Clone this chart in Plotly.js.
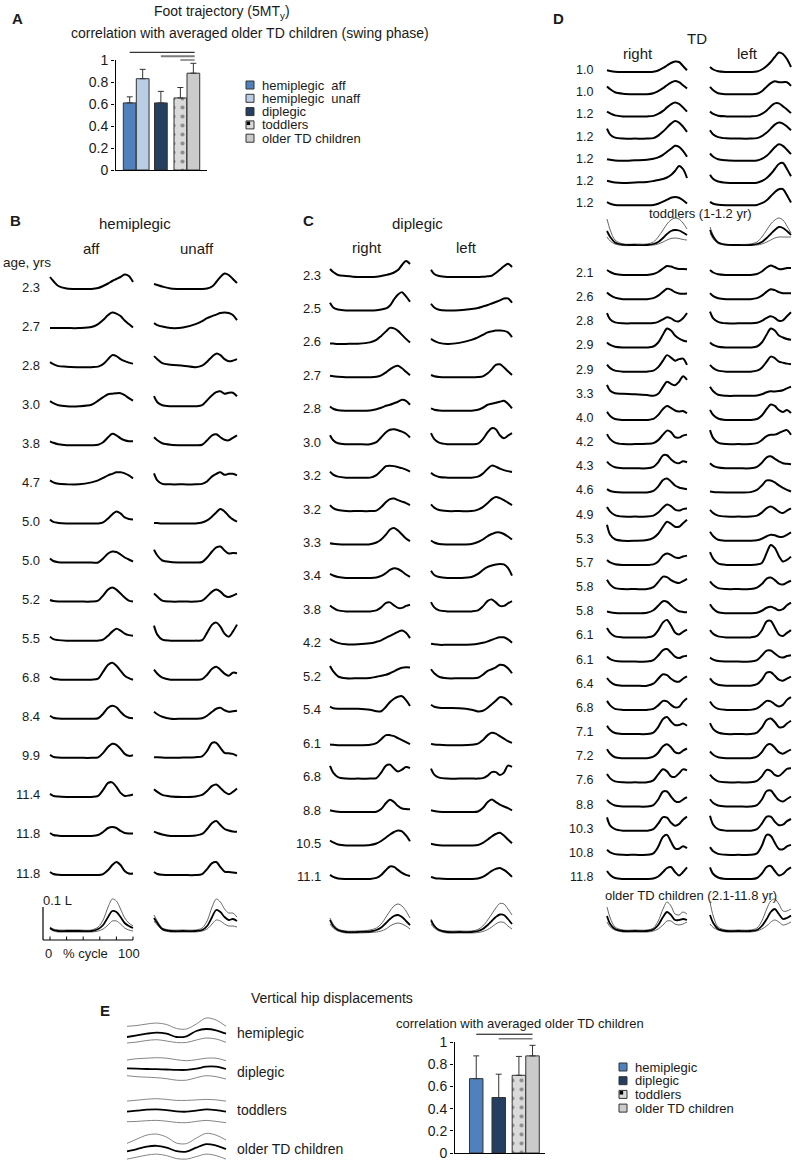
<!DOCTYPE html>
<html>
<head>
<meta charset="utf-8">
<script src="https://cdn.plot.ly/plotly-3.0.1.min.js"></script>
<style>html,body{margin:0;padding:0;background:#fff}</style>
</head>
<body>
<div id="fig" style="width:795px;height:1164px"></div>
<script>
// ---- data ----
// % of gait cycle where each foot trace is sampled
var cyc = [0,4,10,20,35,50,58,64,70,75,80,85,90,95,100];

// panel A: correlation of foot trajectory with older TD average
var groupsA = ['hemiplegic\u00a0 aff','hemiplegic\u00a0 unaff','diplegic','toddlers','older TD children'];
var corrA = [0.61, 0.83, 0.61, 0.655, 0.88];
var errA = [0.055, 0.085, 0.105, 0.095, 0.09];

// panel E: correlation of hip displacement
var groupsE = ['hemiplegic','diplegic','toddlers','older TD children'];
var corrE = [0.67, 0.50, 0.70, 0.875];
var errE = [0.205, 0.21, 0.17, 0.095];

// heights above baseline (px) of the 5MT vertical trajectory
var hemiAges = ['2.3','2.7','2.8','3.0','3.8','4.7','5.0','5.0','5.2','5.5','6.8','8.4','9.9','11.4','11.8','11.8'];
var hemiAff = [
 [12,8,3,0.5,0,0,1,3,5.5,8,10,12,14.5,13,7],
 [0,0,0,0,0,1,4,8,13,15.5,14.5,12,7.5,4,0.5],
 [5,3,1,0.5,0,0,0.5,3,8,12,11,8,6,4.5,3.5],
 [5,3,1,0,0,1.5,5.5,9,12,12.5,13,13,11,8,5.5],
 [4,2.5,1,0,0,0,0.5,3,8,11.5,10,7,5,4,4],
 [4,2,0.5,0,0,2,4,6.5,9,10.5,12,12,11,9,6],
 [4,1.5,0.5,0,0,0,0,1,5,9,12,10,6,4.5,4],
 [4,1.5,0.3,0,0,0,0,4,9,11,10.5,8,5,3,1],
 [1.5,0.5,0,0,0,0,1,6,12,14,12,8,4,1,0],
 [4,1.5,0.5,0,0,0,0,1,5,9,12,10,7,5.5,5],
 [3,1,0.3,0,0,0,1,8,15,17,14,9,4,1.5,0],
 [3,1,0.3,0,0,0,0.5,5,11,13,11.5,7,3,1,0.5],
 [3,1,0.3,0,0,0,0.5,5,11,14,13,9,4,2,2.5],
 [3,1,0.3,0,0,0,1,7,14,14.5,10,4,1,1.5,2.5],
 [3,1,0.3,0,0,0,1,4,8,9,8,5,3,2.5,2.5],
 [3,1,0.3,0,0,0,0,1,5,10,13,10,4,1.5,1.5]
];
var hemiUnaff = [
 [5,4,2.5,0.5,0,0,0,0.5,2.5,7,12,15.5,14,10,6],
 [5,3,1.5,0,0.5,4,7,10,12,13.5,15,15.5,15,13,8],
 [11,8,4,2.5,1.5,0,1.5,5.5,10.5,13.5,12,8,6,6.5,8],
 [10,4,1,0,0,0,1,6,11,14,15,12.5,13.5,13.5,10],
 [8,5,2,0.5,0,0,0.5,5,10,11,8,5.5,5,7.5,10],
 [11,4,0.5,0,0,0,0.5,3,8,10.5,12,9.5,10.5,10.5,9],
 [0.5,0.3,0,0,0,0,1,3,7,11,14.5,12,7.5,4,1.7],
 [12.7,7,2,0.5,0,0,0.5,5,11,15,16,12,9,9.5,9.3],
 [8,5,1,0,0,0,1,5,10,12,10,6,4.5,6,8],
 [15,6,1,0,0,0,0.5,8,16,18,14,7,4,9,16],
 [10,6,2,0,0,0,0.5,5,11,13,10,6,4,7,6.5],
 [7,4.5,2,0,0,0,0.5,3,7,10,11,8.5,7,7.5,8],
 [0.7,0.5,0.3,0,0.3,0.7,1.5,7,15,15,10,5,4.5,4,2],
 [7.7,5,2,0.5,0,0.5,2,6,11,12.5,9,5,2.7,5,8.5],
 [4.3,3,1.5,0,0,0.5,2,7,13,15,11,7,5.5,4.5,4.3],
 [3,1,0.3,0,0,0,1,6,12,13,8,3.5,3,2.5,2]
];
var hemiAffMean = [3,1,0,0,0,0,2,6,14,20,19,14,8,5,3];
var hemiAffUp   = [4,2,1,1,1,1,4,11,24,32,30,22,13,8,5];
var hemiAffLo   = [2,0,-1,-1,-1,-1,0,2,6,10,10,7,3,1,0];
var hemiUnaffMean = [13,8,2,0,0,0,1,5,14,21,19,14,11,12,10];
var hemiUnaffUp   = [16,10,3,1,1,1,3,10,24,32,29,22,18,18,14];
var hemiUnaffLo   = [10,6,1,-1,-1,-1,0,2,7,11,10,7,5,5,4];

var diplAges = ['2.3','2.5','2.6','2.7','2.8','3.0','3.2','3.2','3.3','3.4','3.8','4.2','5.2','5.4','6.1','6.8','8.8','10.5','11.1'];
var diplRight = [
 [8,5,2,1,0,0,0.3,1,2,3,4.5,7,12,16,13],
 [7.7,3,1,0,0,0,0.3,1,2,5,11,16,18.3,14,8.7],
 [0.5,0.3,0,0,0.2,1.5,4,8,12.5,16,15.5,13,9,5,1.3],
 [1.5,1,0.5,0,0,0,0.5,2,5,8,10.5,11.5,9,5.5,2],
 [4.3,2,0.5,0,0,0.3,1.5,3,5,6,7.5,9,11,10,6],
 [9,4,1,0,0,0,2,7,12,14.5,15,14,12.5,10.5,6.7],
 [6,3,1,0,0,0,2.5,7,11.5,12,11.5,10.5,9.5,8,6],
 [6,3,1,0,0,0,0.5,4,9,12,12.5,11,9.5,8,6],
 [1.3,0.7,0.3,0,0,0.3,2,5,10,15,16.5,14,10,6,3.3],
 [4,2.5,1,0,0,0,0.5,2,5,8,9.7,9,6.5,3.5,1],
 [6,3.5,1,0,0,0,1,4,8.5,9,6,3.5,3.5,5.5,6.7],
 [6,4,2,0.5,0.5,1.5,3,4.5,7,9,11,13,14.3,12,6.7],
 [12.3,7,2,0,0,0.3,1.5,2.5,3.5,5,7,9,10.5,11,10.7],
 [5,3.5,3,3,3,2,0.5,0.5,5,9.7,13,15,15.5,11.5,5.7],
 [0.7,0.3,0,0,0,0.3,2,6,10,10,9,7,5,3,1],
 [12.7,6,1.5,0,0,0,0.5,6,13,14,10,7,9,11.5,10.5],
 [1.7,1,0.3,0,0,0,0.3,3,9,12.3,10,6,3.5,3,2.7],
 [5,3,1,0,0,0.5,2,4.5,8,11,13.5,15,14,10,4.3],
 [4,2,0.5,0,0,0,1,4,9,12.5,12,9,6,4,3]
];
var diplLeft = [
 [7.3,3,1,0,0,0,0,0.3,0.7,1.3,4,7.3,10.7,13.3,10],
 [6.7,3,0.7,0,0.3,1.5,2.5,4,5.5,7,8.5,10,12,12,7.7],
 [5,3,1,0,1,4,6.5,9,11.5,12.5,13.3,13.3,13,11.5,6.7],
 [2.3,1,0.3,0,0,0,0.3,1,4,8,12.5,13,10,6,2.3],
 [2.3,1,0.3,0,0,0,1,3,6,7,8,9,10,7,2.3],
 [11,5,1.5,0,0,0,0.5,5,12,16,15,9,6,8.5,11],
 [5,2.5,0.7,0,0,0,1,4,9,12,11,9,7.5,6.5,5.7],
 [6.7,3.5,1,0,0,0,1.5,4,8,12,14,13,11,8.5,6],
 [4,2,0.5,0,0,0.5,2.5,5,8.5,10.5,12,12,10.5,8,5],
 [7.3,3,1,0,0,1,4,8,11,12.5,13.5,14,13.5,10,2.3],
 [9.3,4,1,0,0,0,1,5,10.5,12,9,5.5,5.5,8,10.3],
 [1,0.5,0,0,0,0.3,1,2,3.5,5,6.5,7.5,7.5,5.5,2],
 [9,5,1.5,0,0,0,0.5,3.5,7.5,9,11,13.5,13,10,5],
 [7,5,4,3.7,3.5,2,0.3,1,4,7.5,11,14.5,14,11,6.7],
 [1.3,0.7,0.3,0,0,0.3,1.5,5,10,12.3,11.5,9,6.5,4,2.3],
 [10,4,1,0,0,0,0,0.5,3,6.5,6.5,3.5,6,13,11.7],
 [1.7,1,0.3,0,0,0,0.5,4,10,12.5,10,7.5,5.5,4,1.7],
 [1.7,1,0.3,0,0,0,0.5,2.5,6,9,11.5,12.7,10,6,2.3],
 [2,1,0.3,0,0,0,0.5,2,5,8,10,11,9,6,2]
];
var diplRightMean = [12,6,2,0,0,0.5,2,4.5,9,13,16,17,15,11,7];
var diplRightUp   = [14,8,3,1,1,2,4,8,15,21,26,28,26,21,14];
var diplRightLo   = [8,4,1,-1,-1,-0.5,0,1,3,6,8,9,8,6,3];
var diplLeftMean = [11.7,6,2,0,0,0,1,3,7,11,15,17.5,17,13,8];
var diplLeftUp   = [13,7,2.5,1,1,1,2.5,6,12,18,24,28.5,28,23,17];
var diplLeftLo   = [8,4,1,-1,-1,-1,-0.5,0.5,2.5,5,8,10,9.5,6,3];

var todAges = ['1.0','1.0','1.2','1.2','1.2','1.2','1.2'];
var todRight = [
 [1.7,1,0.3,0,0,0,0.3,1.5,4,6.5,9,10.5,10,6,1.7],
 [7.7,5,2,0.5,0,0,1,3,6,9,11.5,13.3,12,9,5.7],
 [4.7,3,1,0,0,0,0.5,2.5,5.5,9,12,14,12.5,9,4.7],
 [10,4,1,0,0,0,0.5,3,7,11,15,17.5,16,12,6.7],
 [1.5,1,0.3,0,0.5,1,2,3.5,6,9,12,15,14,10,4],
 [2.3,1.5,0.5,0,0.5,1,2,3,4,5.5,8,12,17,14,5],
 [3,1.5,0.3,0,0,0,0.3,1.5,3.5,5.5,7.5,8.3,7.5,5,1.7]
];
var todLeft = [
 [5,2.5,0.7,0,0,0,0.5,2.5,6,10,15,19.5,18,13,5],
 [7.3,4,1,0,0,0,0.5,3,7.5,11,13,12,12,12,8.3],
 [5,2.5,0.7,0,0,0,0.5,2.5,6,10,13,13,10,7,3.3],
 [8.3,4,1.5,0.3,0,0,0.5,2.5,6,10,14,16,15,12,8.3],
 [7.3,4,1.5,0.5,0,0,0.3,2,5,9,13.5,16.5,15,11,6.7],
 [8.3,4,1.5,0.3,0,0,0.3,2,5,9,14,19,20,14,6.7],
 [3.3,1.5,0.5,0,0,0,0.3,2,5,9,13,16,16,10,2.7]
];
var todRightMean = [14,8,2.5,0.3,0,0,1,3,7,11,14,15,14.5,12.5,10];
var todRightUp   = [26,15,5,1,1,1,3,8,15,21,25,27,26,22,16];
var todRightLo   = [8,4,1,-0.5,-0.5,-0.5,0,1,3,5,6.5,7,6.5,5.5,5];
var todLeftMean = [15,8,2.5,0.3,0,0,1,3,7,11,15,18,17,14,10];
var todLeftUp   = [18,10,3,0.5,0.5,1,3,8,15,21,25,27,25,19,12];
var todLeftLo   = [12,6,1.5,-0.3,-0.5,-0.5,0,1,3,5,7,8,8,8,8];

var oldAges = ['2.1','2.6','2.8','2.9','2.9','3.3','4.0','4.2','4.3','4.6','4.9','5.3','5.7','5.8','5.8','6.1','6.1','6.4','6.8','7.1','7.2','7.6','8.8','10.3','10.8','11.8'];
var oldRight = [
 [5,3,1,0,0,0,1,3,6.5,9,8.5,7,6,6,5.7],
 [6.7,4,1.5,0,0,0,1,3.5,7.5,10.5,9.5,7,5.7,5.5,5.7],
 [10.3,4,1,0,0,0,0.3,1.5,4,6,5,2.5,2,5,10.3],
 [5,2.5,0.7,0,0,0,1,5,13,19,17,12,9,7,6],
 [7,3.5,1,0,0,0,1,4.5,11,16.5,14,11,12.5,13,6.7],
 [11,5,2.5,2,1.5,0.7,0,2,9,14,12,10.5,14,19.5,16],
 [8.3,4,1,0,0,0,1,5,11,14,12,9.5,8.5,9,6.7],
 [10,5,1.5,0,0,0.3,1,4,9.5,13.5,12,7,6.5,8.5,9.5],
 [6.7,3.5,1,0,0,0,1.5,6,13,13,9,6,5,7,6],
 [3.3,1.5,0.5,0,0,0,1.5,6,12.5,14,11,7,5,4,3.3],
 [9.7,5,1.5,0,0,0,1,4,9,12,10.5,7,6,7.5,8],
 [16,6,1.5,0,0,0.7,3,7,14,19,17,14,14,17.5,21],
 [5,2.5,0.7,0,0,0,0.5,3.5,9.5,11.5,10,7.5,7,8.5,9.3],
 [9.3,4.5,1,0,0,0,2,7,12.5,12,9,7,6,8,10.3],
 [1.7,1,0.3,0,0,0.5,3,7.5,12,11.5,8,4.5,2,1.3,1],
 [9.3,4.5,1,0,0,0,1.5,7,15,17.5,12,5,3,5.5,7.7],
 [5,2.5,0.7,0,0,0,1.5,6,11.5,12.5,9,5,3.5,5,5.7],
 [7.7,4,1,0,0,0,2,7,11.5,10.5,7,4.5,4,7,9.3],
 [9,4.5,1,0,0,0,1,4.5,9,8.5,5,2.5,3,8,11.7],
 [8.3,4,1,0,0,0,1.5,7,15,17,12.5,9,9,10.5,8.3],
 [9,4.5,1,0,0,0,1.5,5.5,12,14,11,6,5,7.5,9.7],
 [8.3,4,1,0,0,0,2,8,13,11,6,5.5,9,13,12],
 [6.7,3.5,1,0,0,0,1.5,7,15,15,10,5.5,4.5,7,9.3],
 [13.3,5,1.5,0,0,0,1.5,7,13.5,13,8,5,6.5,11,14],
 [5,2.5,0.7,0,0,0,1.5,8,18,20,13,6.5,6,8.5,6.7],
 [8,4,1,0,0,0,0.5,2.5,7,11,12,7,3.5,7,11.7]
];
var oldLeft = [
 [5,2.5,0.7,0,0,0,1,3.5,7.5,9.5,8,6,6,7,7],
 [6,3,1,0,0,0,1,3.5,7.5,10,9,7,6,6,6],
 [11.7,5,1.5,0,0,0,0.5,2.5,5.5,7,5.5,2.5,3,7,11],
 [5,2.5,0.7,0,0,0,1,5,13,19,17,12,10,8.5,7.7],
 [6.7,3.5,1,0,0,0,1,4,10,15,13.5,10,9,8,7.3],
 [9,4.5,1,0,0,0,0.3,1.5,3.5,4.5,4.3,4.7,5.5,7.5,9],
 [10,5,1.5,0,0,0,1,4.5,11,15.5,14,10,8,10,7],
 [14,6,1.5,0,0,0,1,4,8,9.3,9.5,11,13,14,9.3],
 [5,2.5,0.7,0,0,0,1.5,5.5,11,12,9.5,7,5,4.5,4],
 [1,0.5,0.2,0,0,0.3,2.5,7,12,12,10,7,4.5,2.5,1],
 [6.7,3.5,1,0,0,0,1,4,8.5,10,8,5,3.5,6,8.3],
 [9,4.5,1,0,0,0,0.5,2,4.5,6,5.5,4,4,6,8.3],
 [12.7,6,1.5,0,0,0,0.5,2,12,20,17,9,3.5,5,8.3],
 [7.7,4,1,0,0,0,1.5,5,10.5,11.5,9,5.5,4.5,6.5,8.3],
 [9,4.5,1,0,0,0,0.5,2.5,5.5,6.5,5,3,4,8,10.7],
 [7.3,3.5,1,0,0,0,1.5,7,16,16.5,10,3,1.5,4.5,7.3],
 [4,2,0.5,0,0,0,1.5,6,11,11,8,5,4,5.5,6.3],
 [7.3,3.5,1,0,0,0,1.5,6,13,13.5,10,6,5,7,9],
 [8.3,4,1,0,0,0,1.5,5,9,8.5,5.5,3.5,5,10,12.7],
 [11,5,1.5,0,0,0,1.5,6.5,14,15.5,12,7,7,10.5,13.3],
 [6.7,3.5,1,0,0,0,1.5,6,13,14,10.5,6,4.5,6.5,8.7],
 [7.7,4,1,0,0,0,1.5,6,12.5,11.5,7.5,6.5,9.5,13.5,14],
 [7.3,3.5,1,0,0,0,1.5,7,15.5,16,11,6.5,5,7.5,10],
 [15,6,1.5,0,0,0,1.5,7,14,14,9,5.5,6,9.5,11.7],
 [7.7,3.5,1,0,0,0,1.5,9,20,19,12,6,5.5,8.5,10],
 [11.7,5,1.5,0,0,0,1,5.5,12,13,8,3.5,5,9,11.7]
];
var oldRightMean = [15,7,2,0,0,0,1.5,6,14,19,16,11,11,12,11];
var oldRightUp   = [24,13,4,1,1,1,3,10,22,29,25,17,16,19,17];
var oldRightLo   = [9,4,1,-1,-1,-1,0,2,6,10,10,7,6,7,9];
var oldLeftMean = [16,8,2,0,0,0,1,5,12,19,22,17,12,13,15.5];
var oldLeftUp   = [29,15,4,1,1,1,3,10,22,30,32,27,20,20,22];
var oldLeftLo   = [7,3.5,1,-1,-1,-1,0,2,5,9,11,9,6,7,9];

// panel E: vertical hip displacement (px, up positive), mean and +-SD
var hipCyc = [0,10,20,30,40,50,60,70,80,90,100];
var hipMean = [
 [-4,-2.3,-0.7,0.3,-0.7,-4,-3.3,2,4,2.7,-0.7],
 [3.3,3,2.7,2.5,2.2,1.8,1.8,3,5,5,2.7],
 [-1.3,-0.3,0.7,1,0.3,-1,-1.3,-0.3,1,0.3,-1.3],
 [-2.3,0,2.5,3.3,1.5,-2,-2.5,1.5,5,3.5,0]
];
var hipUp = [
 [6.7,7.5,9,10,8.5,4.5,4,9,15,13,6.7],
 [11.7,13,13.5,14,13.5,12,11,12,13.5,13.5,11],
 [9.3,10.2,11.2,11.7,11,10,10,10.5,11,10.5,9.3],
 [5.7,10,14,15,12,6,5.5,11,15.7,14,9]
];
var hipLo = [
 [-10,-9,-7.5,-6.7,-8,-9.5,-9.5,-7,-5,-6,-9.3],
 [-4,-5,-5.5,-6,-7,-8.5,-8.5,-6,-4,-5,-7.3],
 [-11.3,-11,-10.3,-10,-10.8,-12,-12.3,-11,-10,-11,-12.3],
 [-10,-8,-6,-5,-6.5,-9.5,-10,-7.5,-5,-6.5,-10]
];

// ---- drawing ----
var W = 795, H = 1164;
var FONT = 'Liberation Sans, Arial, Helvetica, sans-serif';
var data = [];
var ann = [];
var shapes = [];

var layout = {
  width: W, height: H,
  margin: {l: 0, r: 0, t: 0, b: 0, pad: 0},
  paper_bgcolor: '#fff', plot_bgcolor: 'rgba(0,0,0,0)',
  showlegend: false,
  font: {family: FONT, size: 13, color: '#1a1a1a'},
  annotations: ann, shapes: shapes
};

// pixel frame used for text and the small traces' vertical placement
layout.xaxis10 = {domain: [0, 1], range: [0, W], visible: false, anchor: 'y3', fixedrange: true};
layout.yaxis3 = {domain: [0, 1], range: [-H, 0], visible: false, anchor: 'x10', fixedrange: true};

function colAxis(id, x0, x100) {
  var pad = (x100 - x0) * 0.02;
  layout['xaxis' + id] = {domain: [(x0 - pad) / W, (x100 + pad) / W], range: [-2, 102],
    visible: false, anchor: 'y3', fixedrange: true};
}
colAxis(3, 50, 133);   // hemiplegic aff
colAxis(4, 154, 237);  // hemiplegic unaff
colAxis(5, 330, 410);  // diplegic right
colAxis(6, 431, 512);  // diplegic left
colAxis(7, 607, 687);  // TD right
colAxis(8, 710, 791);  // TD left
colAxis(9, 127, 226);  // hip

function txt(s, x, y, size, xa, col) {
  ann.push({xref: 'x10', yref: 'y3', x: x, y: -y, text: s, showarrow: false,
    xanchor: xa || 'center', yanchor: 'middle', borderpad: 0,
    font: {size: size, color: col || '#1a1a1a', family: FONT}});
}

function lineTrace(ax, xs, ys, base, color, width) {
  data.push({type: 'scatter', mode: 'lines', xaxis: 'x' + ax, yaxis: 'y3', x: xs,
    y: ys.map(function(v) { return v - base; }),
    line: {color: color, width: width, shape: 'spline', smoothing: 0.9}, hoverinfo: 'skip'});
}
function rowStack(ax, rows, top, step) {
  rows.forEach(function(r, i) { lineTrace(ax, cyc, r, top + i * step + 2, '#000', 2); });
}
function meanBand(ax, xs, m, up, lo, base, w) {
  lineTrace(ax, xs, up, base, '#555', 0.9);
  lineTrace(ax, xs, lo, base, '#555', 0.9);
  lineTrace(ax, xs, m, base, '#000', w);
}
function ageCol(ages, right, top, step, size) {
  ages.forEach(function(a, i) { txt(a, right, top + i * step, size, 'right'); });
}

// B hemiplegic
rowStack(3, hemiAff, 287, 39.07);
rowStack(4, hemiUnaff, 287, 39.07);
ageCol(hemiAges, 41, 287, 39.07, 13);
meanBand(3, cyc, hemiAffMean, hemiAffUp, hemiAffLo, 931, 1.8);
meanBand(4, cyc, hemiUnaffMean, hemiUnaffUp, hemiUnaffLo, 931, 1.8);

// C diplegic
rowStack(5, diplRight, 275, 33.44);
rowStack(6, diplLeft, 275, 33.44);
ageCol(diplAges, 322, 275, 33.44, 13);
meanBand(5, cyc, diplRightMean, diplRightUp, diplRightLo, 932, 1.8);
meanBand(6, cyc, diplLeftMean, diplLeftUp, diplLeftLo, 932, 1.8);

// D TD
rowStack(7, todRight, 70, 22.2);
rowStack(8, todLeft, 70, 22.2);
ageCol(todAges, 594, 70, 22.2, 12.5);
meanBand(7, cyc, todRightMean, todRightUp, todRightLo, 245, 1.8);
meanBand(8, cyc, todLeftMean, todLeftUp, todLeftLo, 245, 1.8);
rowStack(7, oldRight, 273, 24.16);
rowStack(8, oldLeft, 273, 24.16);
ageCol(oldAges, 594, 273, 24.16, 12.5);
meanBand(7, cyc, oldRightMean, oldRightUp, oldRightLo, 931, 1.8);
meanBand(8, cyc, oldLeftMean, oldLeftUp, oldLeftLo, 931, 1.8);

// E hip traces
groupsE.forEach(function(g, i) {
  var yc = 1033 + i * 38.7;
  lineTrace(9, hipCyc, hipUp[i], yc, '#777', 0.9);
  lineTrace(9, hipCyc, hipLo[i], yc, '#777', 0.9);
  lineTrace(9, hipCyc, hipMean[i], yc, '#000', 1.8);
  txt(g, 236, yc, 14, 'left');
});

// bar charts
var barColA = ['#4f81bd', '#b9cde5', '#243f60', '#dadada', '#cbcbcb'];
var barColE = ['#4f81bd', '#243f60', '#dadada', '#cbcbcb'];
var posA = [1.05, 2.05, 3.45, 4.95, 5.95];
var posE = [1.65, 3.4, 4.97, 6.03];

function barAxes(xn, yn, left, right, pxZero, pxOne) {
  var top = pxZero - (pxZero - pxOne) * 1.1;
  layout['xaxis' + xn] = {domain: [left / W, right / W], range: [-0.08, 7], showline: true,
    linecolor: '#000', linewidth: 1, showgrid: false, zeroline: false, showticklabels: false,
    ticks: '', anchor: 'y' + yn, fixedrange: true};
  layout['yaxis' + yn] = {domain: [1 - pxZero / H, 1 - top / H], range: [0, 1.1], showline: false,
    ticks: 'outside', ticklen: 3, tickwidth: 1, tickcolor: '#000', tickvals: [0, 0.2, 0.4, 0.6, 0.8, 1],
    ticktext: ['0', '0.2', '0.4', '0.6', '0.8', '1'], showgrid: false, zeroline: false,
    tickfont: {size: 14, family: FONT, color: '#1a1a1a'}, anchor: 'x' + xn, fixedrange: true};
  var xr = xn === '' ? 'x' : 'x' + xn, yr = yn === '' ? 'y' : 'y' + yn;
  shapes.push({type: 'line', xref: xr, yref: yr, x0: -0.04, x1: -0.04, y0: 0, y1: 1,
    line: {color: '#000', width: 1}});
  return [xr, yr];
}

function barTrace(refs, pos, vals, errs, cols, pat, w) {
  data.push({type: 'bar', xaxis: refs[0], yaxis: refs[1], x: pos, y: vals, width: w,
    marker: {color: cols, line: {color: '#333', width: 1},
      pattern: {shape: pat, fillmode: 'overlay', fgcolor: '#000', size: 9, solidity: 0.17}},
    error_y: {type: 'data', symmetric: false, array: errs, arrayminus: errs.map(function() { return 0; }),
      color: '#333', thickness: 1, width: 3},
    hoverinfo: 'skip'});
}

var refA = barAxes('', '', 115, 207, 170, 60);
barTrace(refA, posA, corrA, errA, barColA, ['', '', '', '.', ''], 0.98);
[[0, 4, 1.07, '#000', 1], [2, 4, 1.035, '#7a7a7a', 2], [3, 4, 1.0, '#7a7a7a', 1.5]].forEach(function(s) {
  shapes.push({type: 'line', xref: refA[0], yref: refA[1], x0: posA[s[0]], x1: posA[s[1]] + 0.1,
    y0: s[2], y1: s[2], line: {color: s[3], width: s[4]}});
});

var refE = barAxes('2', '2', 454, 545, 1153, 1042);
barTrace(refE, posE, corrE, errE, barColE, ['', '', '.', ''], 1.05);
[[0, 3, 1.07, '#000', 1], [1, 3, 1.03, '#7a7a7a', 1.5]].forEach(function(s) {
  shapes.push({type: 'line', xref: refE[0], yref: refE[1], x0: posE[s[0]], x1: posE[s[1]],
    y0: s[2], y1: s[2], line: {color: s[3], width: s[4]}});
});

// manual legends
function legend(names, cols, cx, top, step, patIdx, fs) {
  names.forEach(function(g, i) {
    var y = top + i * step;
    data.push({type: 'scatter', mode: 'markers', xaxis: 'x10', yaxis: 'y3', x: [cx], y: [-y],
      marker: {symbol: 'square', size: 8, color: cols[i], line: {color: '#333', width: 1}}, hoverinfo: 'skip'});
    if (i === patIdx) {
      data.push({type: 'scatter', mode: 'markers', xaxis: 'x10', yaxis: 'y3', x: [cx - 1.6], y: [-y + 1.6],
        marker: {symbol: 'square', size: 3.5, color: '#000'}, hoverinfo: 'skip'});
    }
    txt(g, cx + 11, y, fs, 'left');
  });
}
legend(groupsA, barColA, 250, 85, 13.3, 3, 13);
legend(groupsE, barColE, 623, 1067, 13.7, 2, 13);

// titles and labels
txt('<b>A</b>', 17, 18, 15);
txt('Foot trajectory (5MT<sub>y</sub>)', 222, 12, 14);
txt('correlation with averaged older TD children (swing phase)', 250, 33, 14);
txt('<b>B</b>', 15, 220, 15);
txt('hemiplegic', 135, 223, 15);
txt('aff', 91, 248, 15);
txt('unaff', 197, 248, 15);
txt('age, yrs', 2, 262, 13.5, 'left');
txt('<b>C</b>', 308, 220, 15);
txt('diplegic', 417, 223, 15);
txt('right', 367, 247, 15);
txt('left', 466, 247, 15);
txt('<b>D</b>', 558, 18, 15);
txt('TD', 697, 38, 15);
txt('right', 638, 53, 15);
txt('left', 747, 53, 15);
txt('toddlers (1-1.2 yr)', 700, 213, 13);
txt('older TD children (2.1-11.8 yr)', 691, 895, 13);
txt('<b>E</b>', 105, 1010, 15);
txt('Vertical hip displacements', 332, 998, 14);
txt('correlation with averaged older TD children', 520, 1023, 13);

// scale bar under panel B
shapes.push({type: 'line', xref: 'x10', yref: 'y3', x0: 43, x1: 43, y0: -907, y1: -940, line: {color: '#000', width: 1.2}});
shapes.push({type: 'line', xref: 'x10', yref: 'y3', x0: 43, x1: 133, y0: -940, y1: -940, line: {color: '#000', width: 1.2}});
[0, 20, 40, 60, 80, 100].forEach(function(p) {
  shapes.push({type: 'line', xref: 'x3', yref: 'y3', x0: p, x1: p, y0: -940, y1: -936.5, line: {color: '#000', width: 1}});
});
txt('0.1 L', 42, 900, 13, 'left');
txt('0', 48, 953, 13);
txt('% cycle', 85, 953, 13);
txt('100', 129, 953, 13);

Plotly.newPlot('fig', data, layout, {staticPlot: true});
</script>
</body>
</html>
